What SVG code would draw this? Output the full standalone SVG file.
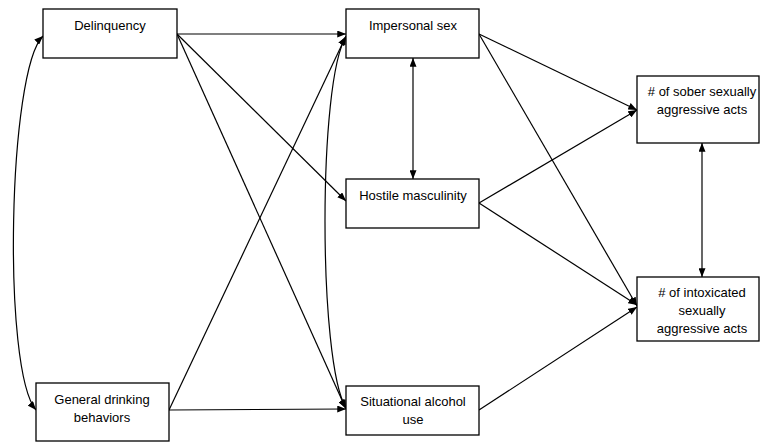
<svg xmlns="http://www.w3.org/2000/svg" width="760" height="443" viewBox="0 0 760 443">
<style>
.box{fill:#fff;stroke:#000;stroke-width:1.3}
.t{font-family:"Liberation Sans",Arial,sans-serif;font-size:13px;fill:#000;text-anchor:middle}
.c{fill:none;stroke:#000;stroke-width:1.2}
</style>
<defs>
<marker id="ah" viewBox="0 0 10 8" refX="10" refY="4" markerWidth="9" markerHeight="7" markerUnits="userSpaceOnUse" orient="auto-start-reverse">
<path d="M0,0 L10,4 L0,8 z" fill="#000"/>
</marker>
</defs>
<rect width="760" height="443" fill="#fff"/>
<g id="connectors">
<path class="c" d="M43 36 C8 70,2 370,36 410" marker-start="url(#ah)" marker-end="url(#ah)"/>
<path class="c" d="M346 37 C318 80,318 362,346 408" marker-start="url(#ah)" marker-end="url(#ah)"/>
<line class="c" x1="177" y1="34" x2="346" y2="34" marker-end="url(#ah)"/>
<line class="c" x1="177" y1="34" x2="346" y2="201" marker-end="url(#ah)"/>
<line class="c" x1="177" y1="34" x2="346" y2="409" marker-end="url(#ah)"/>
<line class="c" x1="169" y1="410" x2="346" y2="36" marker-end="url(#ah)"/>
<line class="c" x1="169" y1="410" x2="346" y2="409" marker-end="url(#ah)"/>
<line class="c" x1="413" y1="58" x2="413" y2="179" marker-start="url(#ah)" marker-end="url(#ah)"/>
<line class="c" x1="479" y1="34" x2="637" y2="110" marker-end="url(#ah)"/>
<line class="c" x1="479" y1="34" x2="637" y2="306" marker-end="url(#ah)"/>
<line class="c" x1="479" y1="203" x2="637" y2="110" marker-end="url(#ah)"/>
<line class="c" x1="479" y1="203" x2="637" y2="305" marker-end="url(#ah)"/>
<line class="c" x1="479" y1="410" x2="637" y2="307" marker-end="url(#ah)"/>
<line class="c" x1="702" y1="143" x2="702" y2="277" marker-start="url(#ah)" marker-end="url(#ah)"/>
</g>
<g id="delinquency">
<rect class="box" x="43" y="9" width="134" height="49"/>
<text class="t" x="110" y="30">Delinquency</text>
</g>
<g id="general-drinking">
<rect class="box" x="36" y="383" width="133" height="58"/>
<text class="t" x="102" y="404">General drinking</text>
<text class="t" x="102" y="422">behaviors</text>
</g>
<g id="impersonal-sex">
<rect class="box" x="346" y="9" width="133" height="49"/>
<text class="t" x="413" y="30">Impersonal sex</text>
</g>
<g id="hostile-masculinity">
<rect class="box" x="346" y="179" width="133" height="49"/>
<text class="t" x="413" y="200">Hostile masculinity</text>
</g>
<g id="situational-alcohol">
<rect class="box" x="346" y="386" width="133" height="49"/>
<text class="t" x="413" y="406">Situational alcohol</text>
<text class="t" x="413" y="424">use</text>
</g>
<g id="sober-acts">
<rect class="box" x="637" y="76" width="122" height="67"/>
<text class="t" x="702" y="96">#  of sober sexually</text>
<text class="t" x="702" y="114">aggressive acts</text>
</g>
<g id="intoxicated-acts">
<rect class="box" x="637" y="277" width="122" height="64"/>
<text class="t" x="702" y="297">#  of intoxicated</text>
<text class="t" x="702" y="315">sexually</text>
<text class="t" x="702" y="333">aggressive acts</text>
</g>
</svg>
